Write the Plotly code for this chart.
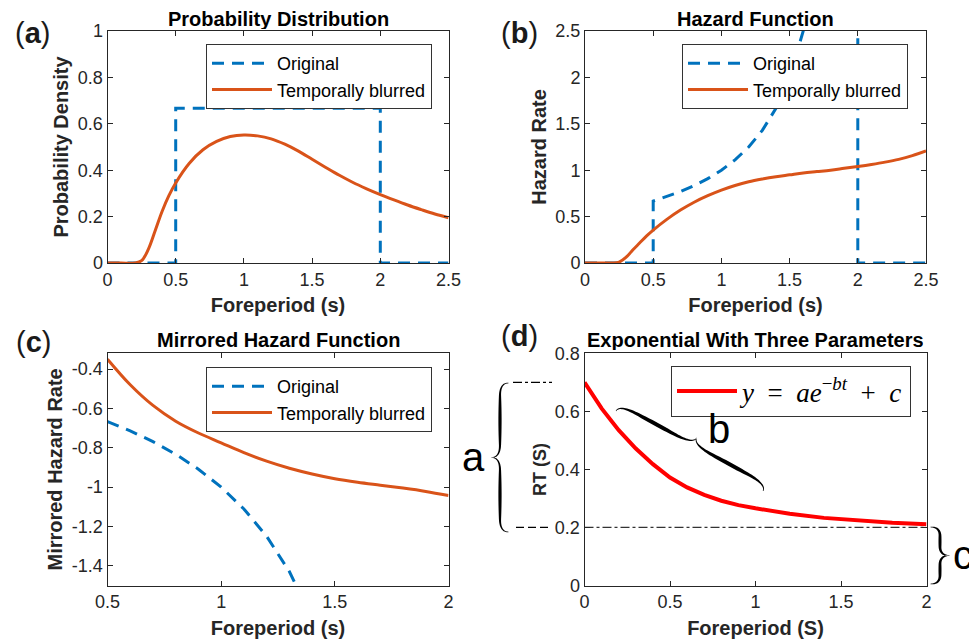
import numpy as np
import plotly.graph_objects as go

W, H = 977, 641
OFF = 8  # page body margin of the rendered html
FW, FH = W - OFF, H - OFF

# ---------------- data ----------------
# (a) probability distribution
pdf_orig_t = [0, 0.5, 0.5, 2.0, 2.0, 2.5]
pdf_orig = [0, 0, 0.667, 0.667, 0, 0]
blur_t = [0, 0.1, 0.2, 0.25, 0.3, 0.35, 0.4, 0.45, 0.5, 0.6, 0.7, 0.8, 0.9, 1.0,
          1.1, 1.2, 1.3, 1.4, 1.5, 1.6, 1.7, 1.8, 1.9, 2.0, 2.1, 2.2, 2.3, 2.4, 2.5]
pdf_blur = [0, 0, 0, 0.01, 0.06, 0.14, 0.222, 0.29, 0.345, 0.43, 0.488, 0.524, 0.545, 0.552,
            0.548, 0.535, 0.512, 0.482, 0.447, 0.412, 0.378, 0.347, 0.32, 0.295, 0.272,
            0.25, 0.23, 0.211, 0.195]

# (b) hazard function
haz_orig_t = [0, 0.5, 0.5, 0.6, 0.7, 0.8, 0.9, 1.0, 1.1, 1.2, 1.3, 1.4, 1.5, 1.6, 1.7,
              1.8, 1.9, 1.95, 2.0, 2.0, 2.5]
haz_orig = [0, 0, 0.667, 0.714, 0.769, 0.833, 0.909, 1.0, 1.111, 1.25, 1.429, 1.667, 2.0,
            2.5, 3.33, 5.0, 10.0, 20.0, 40.0, 0, 0]
haz_blur = [0, 0, 0, 0.01, 0.06, 0.14, 0.215, 0.29, 0.355, 0.47, 0.57, 0.655, 0.725, 0.785,
            0.835, 0.875, 0.905, 0.93, 0.95, 0.97, 0.985, 1.0, 1.02, 1.04, 1.062, 1.087,
            1.117, 1.157, 1.207]

# (c) mirrored hazard function
mir_orig_t = [0.5, 0.6, 0.7, 0.8, 0.9, 1.0, 1.1, 1.2, 1.3, 1.4, 1.5]
mir_orig = [-0.667, -0.714, -0.769, -0.833, -0.909, -1.0, -1.111, -1.25, -1.429, -1.667, -2.0]
mir_blur_t = [0.5, 0.6, 0.7, 0.8, 0.9, 1.0, 1.1, 1.2, 1.3, 1.4, 1.5, 1.6, 1.7, 1.8, 1.9, 2.0]
mir_blur = [-0.35, -0.48, -0.585, -0.665, -0.725, -0.775, -0.825, -0.868, -0.904, -0.933,
            -0.957, -0.975, -0.99, -1.005, -1.022, -1.043]

# (d) exponential with three parameters
rt_t = [0, 0.1, 0.2, 0.3, 0.4, 0.5, 0.6, 0.7, 0.8, 0.9, 1.0, 1.2, 1.4, 1.6, 1.8, 2.0]
rt = [0.700, 0.610, 0.535, 0.472, 0.418, 0.372, 0.338, 0.312, 0.292, 0.277, 0.266,
      0.247, 0.233, 0.223, 0.216, 0.211]
param_a_top = 0.7
param_c = 0.2

# tick labels
ticks_x_ab = [0, 0.5, 1, 1.5, 2, 2.5]
ticks_x_ab_text = ["0", "0.5", "1", "1.5", "2", "2.5"]
ticks_y_a = [0, 0.2, 0.4, 0.6, 0.8, 1]
ticks_y_a_text = ["0", "0.2", "0.4", "0.6", "0.8", "1"]
ticks_y_b = [0, 0.5, 1, 1.5, 2, 2.5]
ticks_y_b_text = ["0", "0.5", "1", "1.5", "2", "2.5"]
ticks_x_c = [0.5, 1, 1.5, 2]
ticks_x_c_text = ["0.5", "1", "1.5", "2"]
ticks_y_c = [-1.4, -1.2, -1.0, -0.8, -0.6, -0.4]
ticks_y_c_text = ["-1.4", "-1.2", "-1", "-0.8", "-0.6", "-0.4"]
ticks_x_d = [0, 0.5, 1, 1.5, 2]
ticks_x_d_text = ["0", "0.5", "1", "1.5", "2"]
ticks_y_d = [0, 0.2, 0.4, 0.6, 0.8]
ticks_y_d_text = ["0", "0.2", "0.4", "0.6", "0.8"]

# ---------------- style ----------------
BLUE = "#0072BD"
ORANGE = "#D95319"
RED = "#FF0000"
AX = "#262626"
FONT = "Liberation Sans, Arial, Helvetica, sans-serif"
SERIF = "Liberation Serif, Times New Roman, serif"


def px(x):
    return (x - OFF) / FW


def py(y):
    return 1 - (y - OFF) / FH


fig = go.Figure()

dash_blue = dict(color=BLUE, width=3, dash="12px,8px")
solid_orange = dict(color=ORANGE, width=3)

# (a)
fig.add_trace(go.Scatter(x=pdf_orig_t, y=pdf_orig, mode="lines", line=dash_blue,
                         name="Original", xaxis="x", yaxis="y", legend="legend"))
fig.add_trace(go.Scatter(x=blur_t, y=pdf_blur, mode="lines", line=dict(solid_orange, shape="spline"),
                         name="Temporally blurred", xaxis="x", yaxis="y", legend="legend"))
# (b)
fig.add_trace(go.Scatter(x=haz_orig_t, y=haz_orig, mode="lines", line=dash_blue,
                         name="Original", xaxis="x2", yaxis="y2", legend="legend2"))
fig.add_trace(go.Scatter(x=blur_t, y=haz_blur, mode="lines", line=dict(solid_orange, shape="spline"),
                         name="Temporally blurred", xaxis="x2", yaxis="y2", legend="legend2"))
# (c)
fig.add_trace(go.Scatter(x=mir_orig_t, y=mir_orig, mode="lines", line=dash_blue,
                         name="Original", xaxis="x3", yaxis="y3", legend="legend3"))
fig.add_trace(go.Scatter(x=mir_blur_t, y=mir_blur, mode="lines", line=dict(solid_orange, shape="spline"),
                         name="Temporally blurred", xaxis="x3", yaxis="y3", legend="legend3"))
# (d)
fig.add_trace(go.Scatter(x=rt_t, y=rt, mode="lines", line=dict(color=RED, width=4),
                         name="<i>y</i>\u2002=\u2002<i>ae</i><sup>\u2212<i>bt</i></sup>\u2002+\u2002<i>c</i>",
                         xaxis="x4", yaxis="y4", legend="legend4"))


def axis(domain, rng, tv, tt, title, anchor, letter, tsize=20):
    ttl = dict(text="<b>%s</b>" % title, font=dict(family=FONT, size=tsize, color=AX),
               standoff=(9 if letter == "x" else 3))
    return dict(domain=domain, range=rng, anchor=anchor, tickvals=tv, ticktext=tt,
                showline=True, linecolor=AX, linewidth=1, mirror="ticks",
                ticks="inside", ticklen=5, tickcolor=AX, tickwidth=1,
                showgrid=False, zeroline=False, automargin=False,
                tickfont=dict(family=FONT, size=18, color=AX), title=ttl)


xa_dom = [px(107.5), px(448.5)]
xb_dom = [px(585), px(926)]
xd_dom = [px(584.5), px(926.5)]
yt_dom = [py(263), py(31)]
yc_dom = [py(585.5), py(353.3)]

layout = dict(
    width=FW, height=FH, margin=dict(l=0, r=0, t=0, b=0),
    paper_bgcolor="white", plot_bgcolor="white",
    font=dict(family=FONT, color=AX),
    xaxis=axis(xa_dom, [0, 2.5], ticks_x_ab, ticks_x_ab_text, "Foreperiod (s)", "y", "x"),
    yaxis=axis(yt_dom, [0, 1], ticks_y_a, ticks_y_a_text, "Probability Density", "x", "y"),
    xaxis2=axis(xb_dom, [0, 2.5], ticks_x_ab, ticks_x_ab_text, "Foreperiod (s)", "y2", "x"),
    yaxis2=axis(yt_dom, [0, 2.5], ticks_y_b, ticks_y_b_text, "Hazard Rate", "x2", "y"),
    xaxis3=axis(xa_dom, [0.5, 2], ticks_x_c, ticks_x_c_text, "Foreperiod (s)", "y3", "x"),
    yaxis3=axis(yc_dom, [-1.5, -0.32], ticks_y_c, ticks_y_c_text, "Mirrored Hazard Rate", "x3", "y"),
    xaxis4=axis(xd_dom, [0, 2], ticks_x_d, ticks_x_d_text, "Foreperiod (S)", "y4", "x"),
    yaxis4=axis(yc_dom, [0, 0.8], ticks_y_d, ticks_y_d_text, "RT (S)", "x4", "y", tsize=18),
)


def leg(x, y, size=18, family=FONT):
    return dict(x=px(x), y=py(y), xanchor="left", yanchor="top", bgcolor="white",
                bordercolor="#333333", borderwidth=1, font=dict(family=family, size=size, color="#000"),
                itemwidth=60, tracegroupgap=0)


layout["legend"] = leg(206, 44)
layout["legend2"] = leg(682, 44)
layout["legend3"] = leg(206, 367)
layout["legend4"] = leg(671, 366, size=27, family=SERIF)
fig.update_layout(**layout)

# titles and panel labels
ann = []
titles = [("Probability Distribution", 278, 18.5), ("Hazard Function", 755, 18.5),
          ("Mirrored Hazard Function", 278, 340), ("Exponential With Three Parameters", 755, 340)]
for t, x, y in titles:
    ann.append(dict(text="<b>%s</b>" % t, x=px(x), y=py(y), xref="paper", yref="paper",
                    showarrow=False, xanchor="center", yanchor="middle", height=20,
                    font=dict(family=FONT, size=20, color="#000")))
labels = [("a", 32, 33), ("b", 519, 33), ("c", 33, 342), ("d", 519, 336)]
for t, x, y in labels:
    ann.append(dict(text="(<b>%s</b>)" % t, x=px(x), y=py(y), xref="paper", yref="paper",
                    showarrow=False, xanchor="center", yanchor="middle",
                    font=dict(family=FONT, size=29, color="#1a1a1a")))
for t, x, y in [("a", 473, 457), ("b", 719, 429), ("c", 963, 555)]:
    ann.append(dict(text=t, x=px(x), y=py(y), xref="paper", yref="paper",
                    showarrow=False, xanchor="center", yanchor="middle",
                    font=dict(family=FONT, size=40, color="#000")))
fig.update_layout(annotations=ann)


def brace_path(p0, p1, h, d, w, wmin=0.6):
    p0 = np.array(p0, float)
    p1 = np.array(p1, float)
    L = np.linalg.norm(p1 - p0)
    u = (p1 - p0) / L
    n = np.array([-u[1], u[0]])
    m = h / 2.0

    def quad(a, c, b, k=20):
        s = np.linspace(0, 1, k)[:, None]
        return (1 - s) ** 2 * np.array(a) + 2 * (1 - s) * s * np.array(c) + s ** 2 * np.array(b)

    def line(a, b, k=12):
        s = np.linspace(0, 1, k)[:, None]
        return (1 - s) * np.array(a) + s * np.array(b)

    half1 = np.vstack([quad((0, 0), (0, m), (d, m)), line((d, m), (L / 2 - d, m))[1:],
                       quad((L / 2 - d, m), (L / 2, m), (L / 2, h))[1:]])
    half2 = np.vstack([quad((L / 2, h), (L / 2, m), (L / 2 + d, m)), line((L / 2 + d, m), (L - d, m))[1:],
                       quad((L - d, m), (L, m), (L, 0))[1:]])
    pts_all = []
    thick_all = []
    for half in (half1, half2):
        seg = np.sqrt((np.diff(half, axis=0) ** 2).sum(1))
        q = np.concatenate([[0], np.cumsum(seg)]) / seg.sum()
        t = wmin + (w - wmin) * np.sin(np.pi * q)
        pts_all.append(half)
        thick_all.append(t)
    loc = np.vstack([pts_all[0], pts_all[1][1:]])
    th = np.concatenate([thick_all[0], thick_all[1][1:]])
    xy = p0[None, :] + loc[:, :1] * u[None, :] + loc[:, 1:2] * n[None, :]
    tan = np.gradient(xy, axis=0)
    tan /= np.linalg.norm(tan, axis=1)[:, None] + 1e-12
    nor = np.stack([-tan[:, 1], tan[:, 0]], axis=1)
    side1 = xy + nor * th[:, None] / 2
    side2 = xy - nor * th[:, None] / 2
    poly = np.vstack([side1, side2[::-1]])
    s = "M " + " L ".join("%.5f,%.5f" % (px(a), py(b)) for a, b in poly) + " Z"
    return s


shapes = []
for p0, p1, h, d, w in [((508.5, 383), (508.5, 532), 17, 13, 3.2),
                        ((763, 491), (616, 411), 15, 22, 4.0),
                        ((930.5, 584), (930.5, 527), 19, 9, 3.0)]:
    shapes.append(dict(type="path", path=brace_path(p0, p1, h, d, w), xref="paper", yref="paper",
                       fillcolor="black", line=dict(width=0)))
# guide lines for the parameters
shapes.append(dict(type="line", xref="paper", yref="y4", x0=px(513), x1=px(552), y0=param_a_top,
                   y1=param_a_top, line=dict(color="black", width=1.3, dash="dashdot")))
shapes.append(dict(type="line", xref="paper", yref="y4", x0=px(516), x1=px(550), y0=param_c,
                   y1=param_c, line=dict(color="black", width=1.3, dash="8px,4px")))
shapes.append(dict(type="line", xref="x4", yref="y4", x0=rt_t[0], x1=rt_t[-1], y0=param_c,
                   y1=param_c, layer="below", line=dict(color="#333333", width=1.2, dash="dashdot")))
fig.update_layout(shapes=shapes)

fig.write_html("out.html")
